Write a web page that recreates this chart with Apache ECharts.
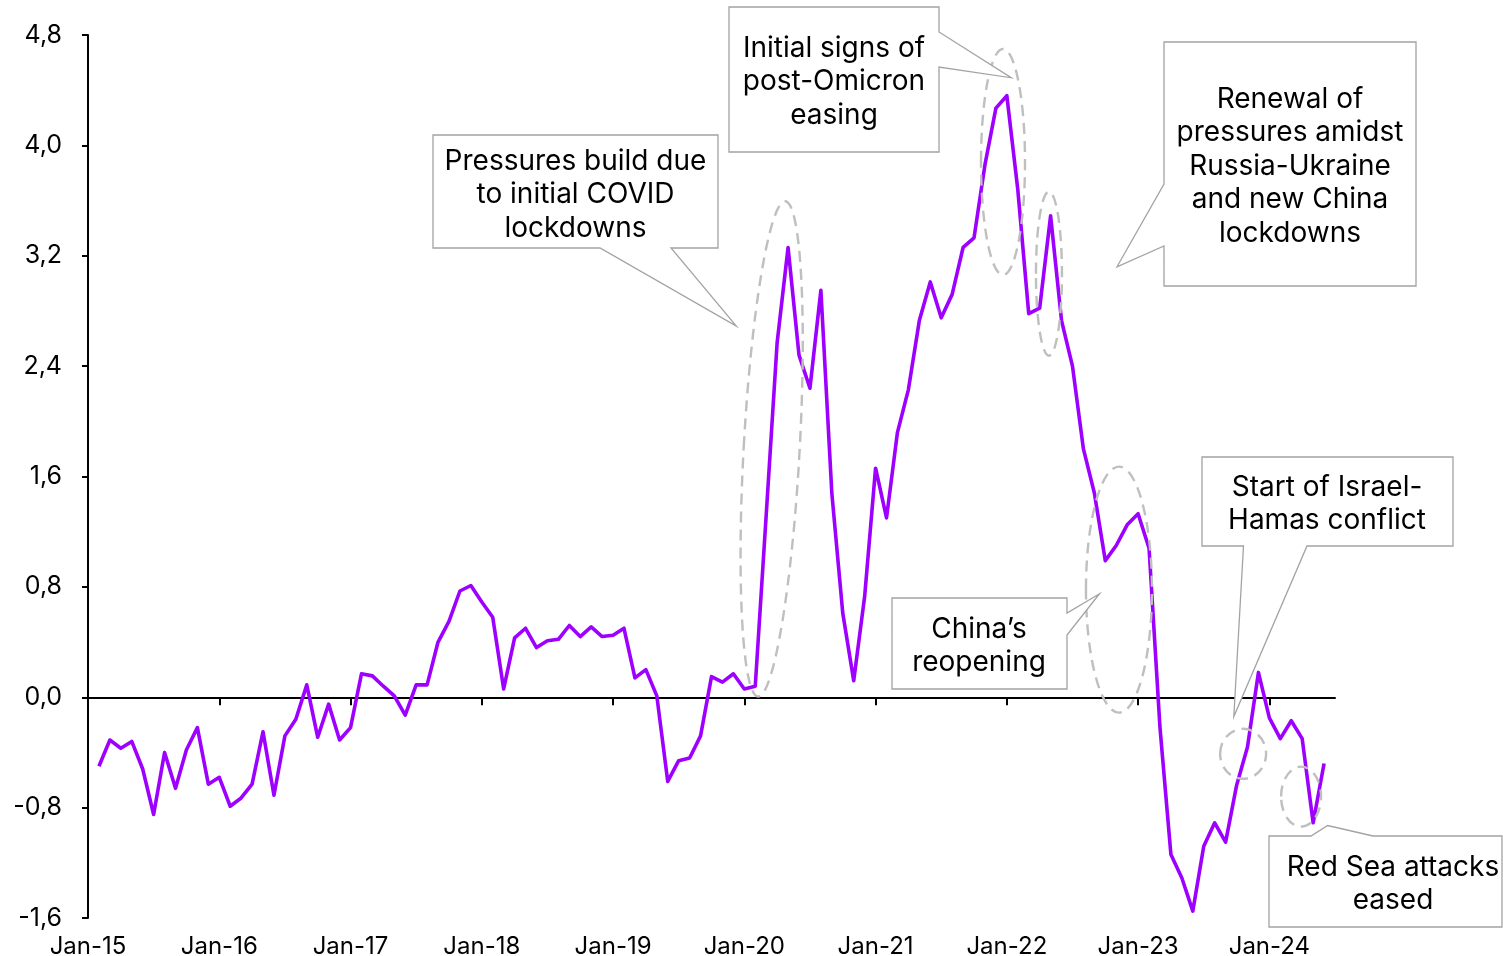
<!DOCTYPE html>
<html>
<head>
<meta charset="utf-8">
<script src="https://cdn.jsdelivr.net/npm/echarts@6/dist/echarts.min.js"></script>
<style>
  html, body { margin: 0; padding: 0; background: #fff; }
  #chart { width: 1503px; height: 956px; }
</style>
</head>
<body>
<div id="chart"></div>
<script>
// Months shown on the category axis (Jan-15 .. Jul-24)
const monthNames = ['Jan','Feb','Mar','Apr','May','Jun','Jul','Aug','Sep','Oct','Nov','Dec'];
const years = ['15','16','17','18','19','20','21','22','23','24'];
const lastMonthIndex = 114; // Jul-24

// Index values, one per month starting Jan-15 (first month has no reading)
const values2015 = [null, -0.50, -0.31, -0.37, -0.32, -0.52, -0.85, -0.40, -0.66, -0.38, -0.22, -0.63];
const values2016 = [-0.58, -0.79, -0.73, -0.63, -0.25, -0.71, -0.28, -0.16, 0.09, -0.29, -0.05, -0.31];
const values2017 = [-0.22, 0.17, 0.155, 0.08, 0.01, -0.13, 0.09, 0.09, 0.40, 0.55, 0.77, 0.81];
const values2018 = [0.69, 0.58, 0.06, 0.43, 0.50, 0.36, 0.41, 0.42, 0.52, 0.44, 0.51, 0.44];
const values2019 = [0.45, 0.50, 0.14, 0.20, 0.01, -0.61, -0.46, -0.44, -0.28, 0.15, 0.11, 0.17];
const values2020 = [0.06, 0.08, 1.32, 2.57, 3.26, 2.48, 2.24, 2.95, 1.48, 0.61, 0.12, 0.73];
const values2021 = [1.66, 1.30, 1.92, 2.23, 2.73, 3.01, 2.75, 2.92, 3.26, 3.33, 3.86, 4.27];
const values2022 = [4.36, 3.68, 2.78, 2.82, 3.49, 2.73, 2.40, 1.80, 1.48, 0.99, 1.10, 1.25];
const values2023 = [1.33, 1.08, -0.22, -1.14, -1.31, -1.55, -1.08, -0.91, -1.05, -0.64, -0.36, 0.18];
const values2024 = [-0.15, -0.30, -0.17, -0.30, -0.91, -0.48];

// Y axis ticks
const yMin = -1.6, yMax = 4.8, yStep = 0.8;

// Annotation texts
const notes = {
  covid: 'Pressures build due\nto initial COVID\nlockdowns',
  omicron: 'Initial signs of\npost-Omicron\neasing',
  russia: 'Renewal of\npressures amidst\nRussia-Ukraine\nand new China\nlockdowns',
  china: 'China\u2019s\nreopening',
  israel: 'Start of Israel-\nHamas conflict',
  redsea: 'Red Sea attacks\neased'
};

const categories = [];
for (let i = 0; i <= lastMonthIndex; i++) {
  categories.push(monthNames[i % 12] + '-' + years[Math.floor(i / 12)]);
}
const series = [].concat(values2015, values2016, values2017, values2018, values2019,
  values2020, values2021, values2022, values2023, values2024);

const FONT = 'Inter, "Noto Sans", sans-serif';
const chart = echarts.init(document.getElementById('chart'), null, { renderer: 'canvas' });

function fmt(v) {
  if (Math.abs(v) < 1e-9) v = 0;
  return v.toFixed(1).replace('.', ',');
}

chart.setOption({
  animation: false,
  backgroundColor: '#ffffff',
  grid: { left: 88, right: 168, top: 35, bottom: 38, containLabel: false, outerBoundsMode: 'none' },
  xAxis: [
    {
      type: 'category',
      data: categories,
      boundaryGap: false,
      axisLine: { onZero: true, lineStyle: { color: '#000', width: 2 } },
      axisTick: { show: true, interval: 11, length: 8, lineStyle: { color: '#000', width: 2 } },
      axisLabel: { show: false },
      splitLine: { show: false }
    },
    {
      type: 'category',
      data: categories,
      boundaryGap: false,
      position: 'bottom',
      axisLine: { show: false, onZero: false },
      axisTick: { show: false },
      axisLabel: { interval: 11, margin: 17, color: '#000', fontSize: 24, fontFamily: FONT },
      splitLine: { show: false }
    }
  ],
  yAxis: {
    type: 'value',
    min: yMin, max: yMax, interval: yStep,
    axisLine: { show: true, onZero: false, lineStyle: { color: '#000', width: 2 } },
    axisTick: { show: true, length: 6, lineStyle: { color: '#000', width: 2 } },
    axisLabel: { formatter: fmt, margin: 26, color: '#000', fontSize: 25, fontFamily: FONT },
    splitLine: { show: false }
  },
  series: [{
    type: 'line',
    data: series,
    xAxisIndex: 0,
    yAxisIndex: 0,
    showSymbol: false,
    symbol: 'none',
    lineStyle: { color: '#9d00ff', width: 3.6, join: 'round' },
    z: 3
  }]
});

// Map a (fractional month index, value) pair to pixels
function px(idx, val) {
  const a = chart.convertToPixel({ xAxisIndex: 0, yAxisIndex: 0 }, [0, val]);
  const b = chart.convertToPixel({ xAxisIndex: 0, yAxisIndex: 0 }, [lastMonthIndex, val]);
  return [a[0] + (b[0] - a[0]) * idx / lastMonthIndex, a[1]];
}

// Dashed rings around the highlighted episodes: [monthIdx, value, rx, ry, rotation]
const rings = [
  [62.5, 1.80, 28, 248, -0.055],
  [83.65, 3.88, 22, 113, 0],
  [87.85, 3.07, 13, 82, 0],
  [94.25, 0.78, 33, 123, 0],
  [105.6, -0.41, 23, 25, 0],
  [110.9, -0.72, 20, 30, 0]
];

// Callout tips in data terms
const tips = {
  covid: px(59.27, 2.69),
  omicron: px(84.4, 4.49),
  russia: px(94.07, 3.12),
  china: px(92.47, 0.75),
  israel: px(104.75, -0.14),
  redsea: px(113.33, -0.93)
};

const BORDER = '#a3a3a3';
function callout(points, text, cx, cy, lh) {
  return [
    {
      type: 'polygon',
      shape: { points: points },
      style: { fill: '#fff', stroke: BORDER, lineWidth: 1.3 },
      z: 10
    },
    {
      type: 'text',
      x: cx, y: cy,
      style: {
        text: text, fill: '#000', font: '28px ' + FONT,
        align: 'center', verticalAlign: 'middle', lineHeight: lh
      },
      z: 11
    }
  ];
}

const graphics = [];
rings.forEach(r => {
  const c = px(r[0], r[1]);
  graphics.push({
    type: 'ellipse',
    x: c[0], y: c[1], rotation: r[4],
    shape: { cx: 0, cy: 0, rx: r[2], ry: r[3] },
    style: { fill: 'none', stroke: '#bfbfbf', lineWidth: 2.4, lineDash: [11, 7] },
    z: 5
  });
});

graphics.push(...callout(
  [[433,135],[718,135],[718,248],[671,248],tips.covid,[600,248],[433,248]],
  notes.covid, 575.5, 195, 33.5));
graphics.push(...callout(
  [[729,7],[939,7],[939,32],tips.omicron,[939,67],[939,152],[729,152]],
  notes.omicron, 834, 82, 33.5));
graphics.push(...callout(
  [[1164,42],[1416,42],[1416,286],[1164,286],[1164,246],tips.russia,[1164,184]],
  notes.russia, 1290, 166.5, 33.5));
graphics.push(...callout(
  [[892,598],[1067,598],[1067,613],tips.china,[1067,635],[1067,689],[892,689]],
  notes.china, 979, 646.5, 33));
graphics.push(...callout(
  [[1202,457],[1453,457],[1453,546],[1307,546],tips.israel,[1243.5,546],[1202,546]],
  notes.israel, 1327, 504, 33));
graphics.push(...callout(
  [[1269,836],[1311,836],tips.redsea,[1373,836],[1502,836],[1502,927],[1269,927]],
  notes.redsea, 1393, 884, 33));

chart.setOption({ graphic: graphics });
</script>
</body>
</html>
